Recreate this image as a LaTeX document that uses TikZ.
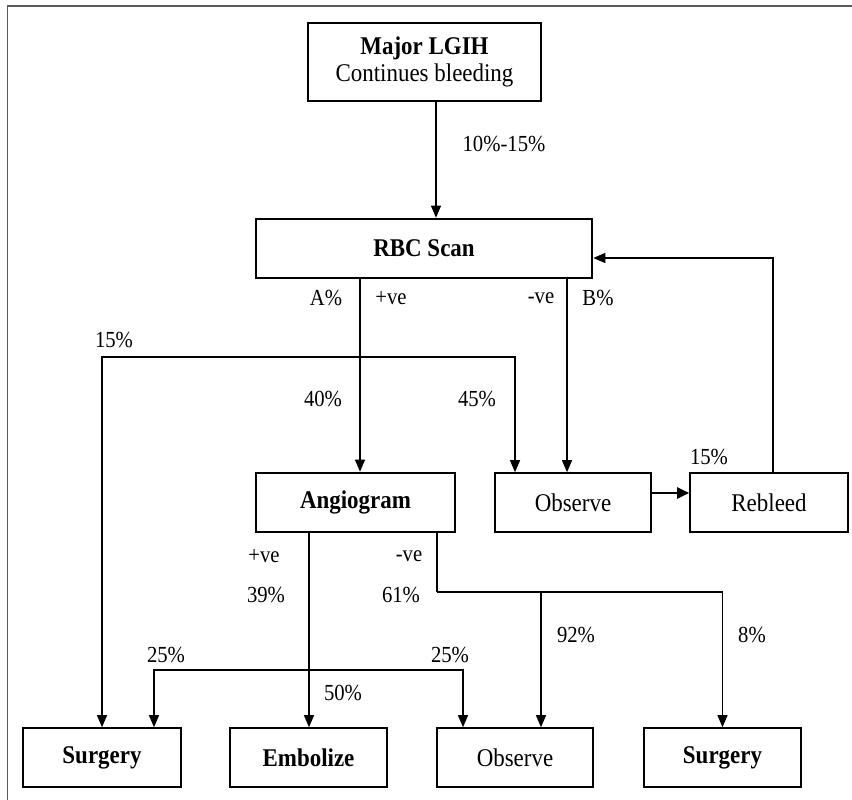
\documentclass[tikz,border=0pt]{standalone}
\usepackage{fontspec}
\setmainfont{Liberation Serif}[FakeStretch=0.9]
\usetikzlibrary{arrows.meta}
\begin{document}
\begin{tikzpicture}[x=1pt,y=-1pt,
  box/.style={draw, line width=1.6pt, inner sep=0pt, font=\fontsize{25.5}{27}\selectfont, align=center, minimum height=59pt},
  thickbox/.style={box, line width=2.6pt},
  lbl/.style={font=\fontsize{23}{25}\selectfont, inner sep=0pt},
  conn/.style={line width=1.2pt, -{Triangle[length=12pt,width=10pt]}},
  plain/.style={line width=1.2pt},
  frame/.style={line width=1.5pt, draw={rgb,255:red,90;green,90;blue,90}}]
\useasboundingbox (0,0) rectangle (852,800);
\draw[frame] (7.3,800) -- (7.3,6) -- (852,6);

% boxes
\node[box, minimum width=233pt, minimum height=78pt] (top) at (424.5,62) {\textbf{Major LGIH}\\Continues bleeding};
\node[thickbox, minimum width=336pt] (rbc) at (424,248.5) {\textbf{RBC Scan}};
\node[thickbox, minimum width=199pt] (angio) at (355.5,502.5) {\textbf{Angiogram}};
\node[box, minimum width=156pt] (obs1) at (573,502.5) {Observe};
\node[box, minimum width=158pt] (rebleed) at (769,502.5) {Rebleed};
\node[box, minimum width=158pt] (surg1) at (102,757.5) {\textbf{Surgery}};
\node[box, minimum width=157pt] (embol) at (308.5,757.5) {\textbf{Embolize}};
\node[box, minimum width=156pt] (obs2) at (515,757.5) {Observe};
\node[box, minimum width=157pt] (surg2) at (722.5,757.5) {\textbf{Surgery}};

% helper coordinates
\coordinate (X436) at (436,0);
\coordinate (X360) at (360,0);
\coordinate (X567) at (567,0);
\coordinate (X515) at (515,0);
\coordinate (X309) at (309,0);
\coordinate (X437) at (437,0);
\coordinate (X541) at (541,0);
\coordinate (X154) at (154,0);
\coordinate (X463) at (463,0);
\coordinate (X773) at (773,0);
\coordinate (Y493) at (0,493);
\coordinate (h1) at (360,357);
\coordinate (h2) at (437,592);
\coordinate (h3) at (309,670);
\coordinate (R) at (773,258);

% connectors
\draw[conn] (X436 |- top.south) -- (X436 |- rbc.north);
\draw[conn] (X360 |- rbc.south) -- (X360 |- angio.north);
\draw[conn] (X567 |- rbc.south) -- (X567 |- obs1.north);
\draw[conn] (h1) -| (surg1.north);
\draw[conn] (h1) -| (X515 |- obs1.north);
\draw[conn] (X773 |- rebleed.north) -- (R) -- (R -| rbc.east);
\draw[line width=2.2pt, -{Triangle[length=12pt,width=11pt]}] (obs1.east |- Y493) -- (rebleed.west |- Y493);
\draw[conn] (X309 |- angio.south) -- (X309 |- embol.north);
\draw[plain] (X437 |- angio.south) -- (h2);
\draw[conn] (h2) -| (surg2.north);
\draw[conn] (X541 |- h2) -- (X541 |- obs2.north);
\draw[conn] (h3) -| (X154 |- surg1.north);
\draw[conn] (h3) -| (X463 |- obs2.north);

% labels
\node[lbl] (l1) at (504,144) {10\%-15\%};
\node[lbl] (l2) at (326,298) {A\%};
\node[lbl] (l3) at (391,298) {+ve};
\node[lbl] (l4) at (541,298) {-ve};
\node[lbl] (l5) at (598,298) {B\%};
\node[lbl] (l6) at (114,340) {15\%};
\node[lbl] (l7) at (323,399) {40\%};
\node[lbl] (l8) at (477,399) {45\%};
\node[lbl] (l9) at (709,457) {15\%};
\node[lbl] (l10) at (264,556) {+ve};
\node[lbl] (l11) at (409,556) {-ve};
\node[lbl] (l12) at (266,595) {39\%};
\node[lbl] (l13) at (401,595) {61\%};
\node[lbl] (l14) at (576,635) {92\%};
\node[lbl] (l15) at (752,635) {8\%};
\node[lbl] (l16) at (166,655) {25\%};
\node[lbl] (l17) at (450,655) {25\%};
\node[lbl] (l18) at (343,693) {50\%};
\end{tikzpicture}
\end{document}
